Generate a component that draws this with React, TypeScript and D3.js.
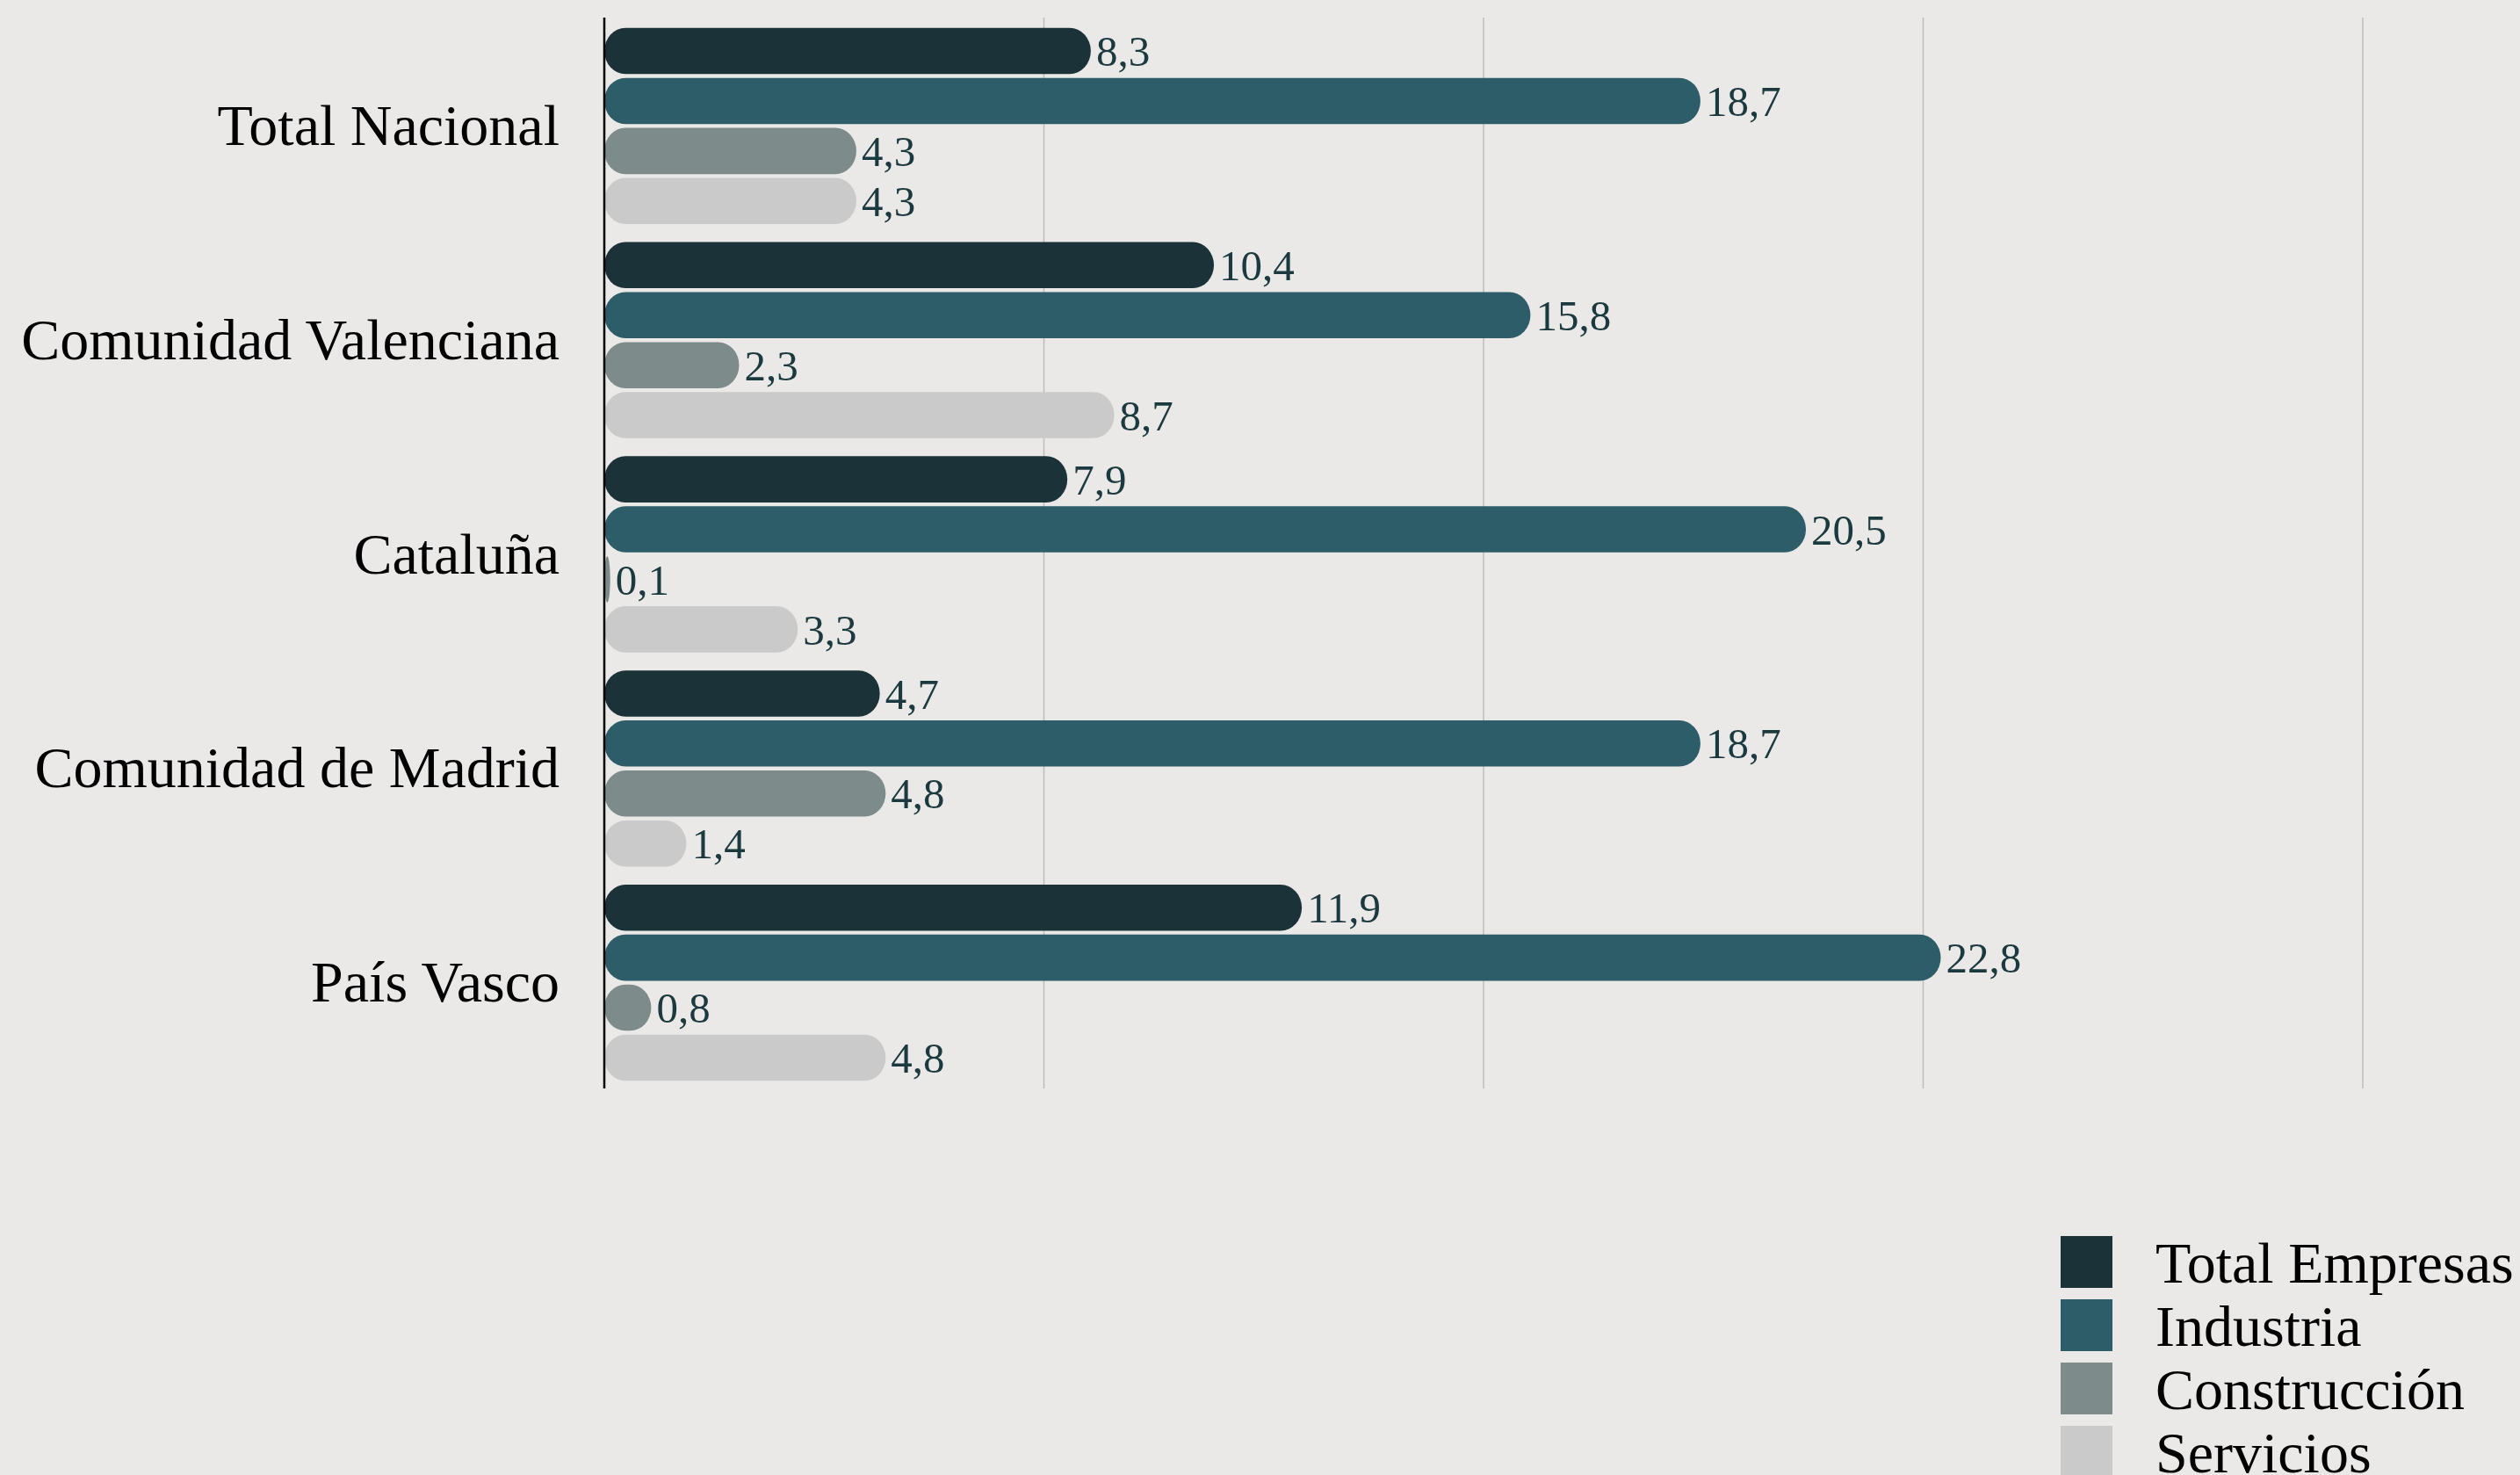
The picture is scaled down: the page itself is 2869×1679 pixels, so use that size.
import React from "react";
import * as d3 from "d3";

const categories = ["Total Nacional", "Comunidad Valenciana", "Cataluña", "Comunidad de Madrid", "País Vasco"];
const seriesNames = ["Total Empresas", "Industria", "Construcción", "Servicios"];
const totalEmpresas = [8.3, 10.4, 7.9, 4.7, 11.9];
const industria = [18.7, 15.8, 20.5, 18.7, 22.8];
const construccion = [4.3, 2.3, 0.1, 4.8, 0.8];
const servicios = [4.3, 8.7, 3.3, 1.4, 4.8];
const gridTicks = [7.5, 15, 22.5, 30];
const colors = ["#1b3338", "#2d5d68", "#7d8b8b", "#cacaca"];

const W = 2869;
const H = 1679;
const FONT = "'Liberation Serif', 'Times New Roman', serif";

export default function App() {
  const series = [totalEmpresas, industria, construccion, servicios];
  const x = d3.scaleLinear().domain([0, 30]).range([688, 2690]);
  const y0 = d3.scaleBand<string>().domain(categories).range([20, 1239]).padding(0);
  const y1 = d3
    .scaleBand<string>()
    .domain(seriesNames)
    .range([0, y0.bandwidth()])
    .paddingInner(0.077)
    .paddingOuter(0.18);
  const bh = y1.bandwidth();
  const fmt = (v: number) => d3.format(".1f")(v).replace(".", ",");

  return (
    <div style={{ position: "fixed", left: 0, top: 0, width: W, height: H }}>
      <svg width={W} height={H} style={{ display: "block" }}>
        <rect x={0} y={0} width={W} height={H} fill="#eae9e7" />
        {gridTicks.map((t) => (
          <line key={t} x1={x(t)} x2={x(t)} y1={20} y2={1239} stroke="#bdbdbd" strokeWidth={1.5} />
        ))}
        {categories.map((c, ci) => (
          <g key={c} transform={`translate(0,${y0(c)})`}>
            <text
              x={637}
              y={y0.bandwidth() / 2}
              dy="0.35em"
              textAnchor="end"
              fontFamily={FONT}
              fontSize={66}
              fill="#000"
            >
              {c}
            </text>
            {seriesNames.map((s, si) => {
              const v = series[si][ci];
              const yy = (y1(s) as number) + 1.5;
              const w = x(v) - x(0);
              return (
                <g key={s}>
                  <rect x={x(0)} y={yy} width={w} height={bh} rx={24} ry={bh / 2} fill={colors[si]} />
                  <text
                    x={x(v) + 6}
                    y={yy + bh / 2}
                    dy="0.35em"
                    fontFamily={FONT}
                    fontSize={49}
                    fill="#1b3a40"
                  >
                    {fmt(v)}
                  </text>
                </g>
              );
            })}
          </g>
        ))}
        <line x1={x(0)} x2={x(0)} y1={20} y2={1239} stroke="#000" strokeWidth={2.5} />
        {seriesNames.map((s, i) => (
          <g key={s} transform={`translate(2346,${1407 + i * 72})`}>
            <rect x={0} y={0} width={59} height={59} fill={colors[i]} />
            <text x={108} y={29.5} dy="0.35em" fontFamily={FONT} fontSize={66} fill="#000">
              {s}
            </text>
          </g>
        ))}
      </svg>
    </div>
  );
}
